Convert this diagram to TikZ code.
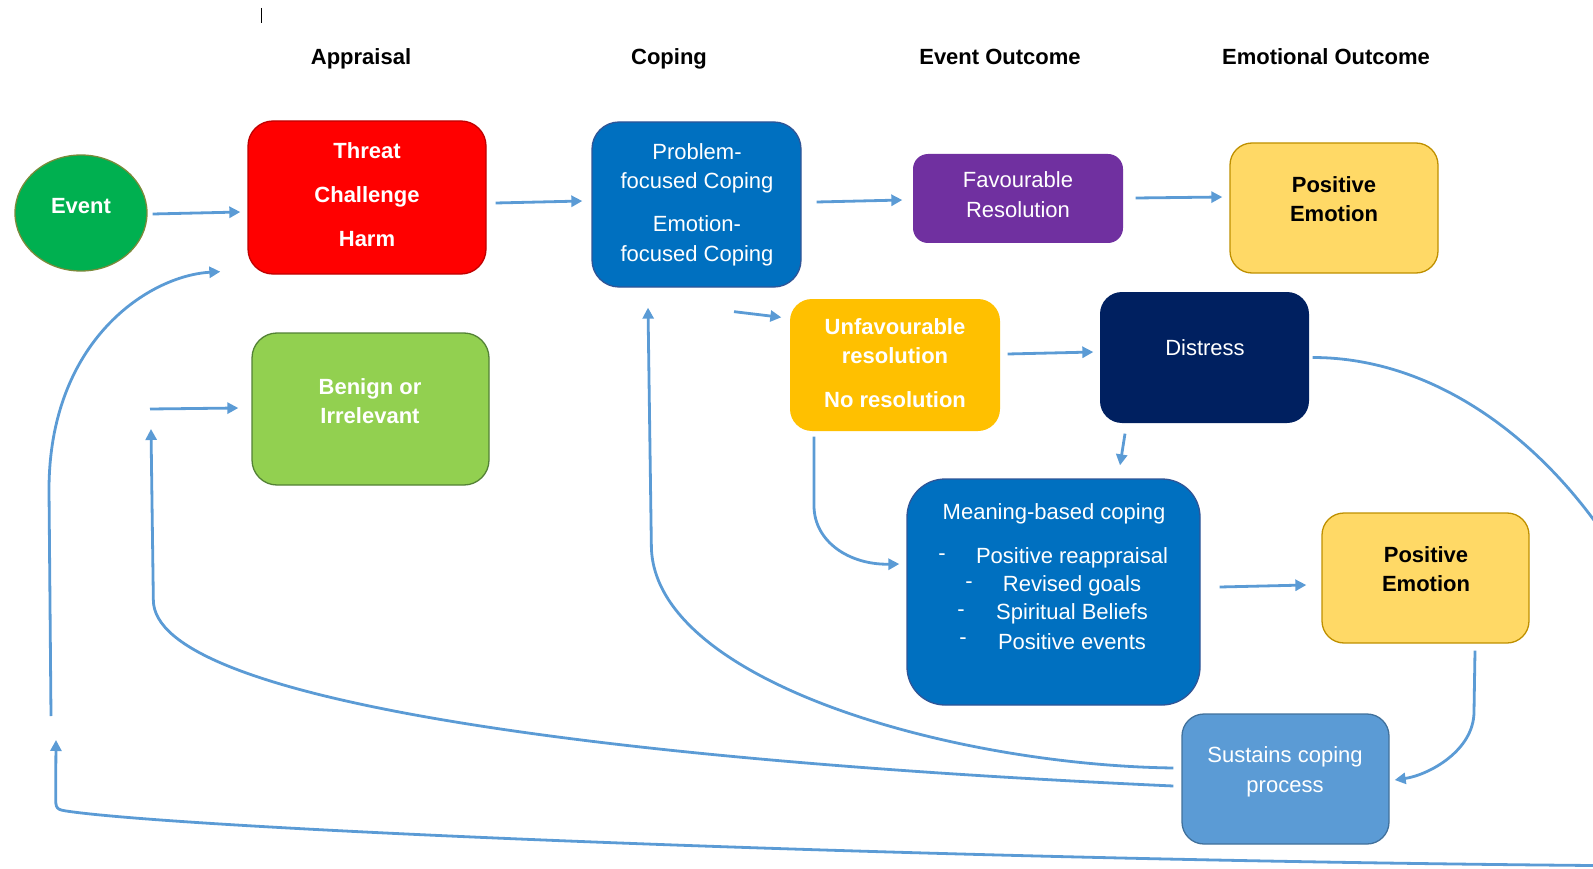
\documentclass[tikz,border=0pt]{standalone}
\usepackage{fontspec}
\setmainfont{Liberation Sans}
\usetikzlibrary{arrows.meta,shapes.geometric}

\definecolor{flowblue}{HTML}{5B9BD5}
\definecolor{eventgreen}{HTML}{00B050}
\definecolor{eventrim}{HTML}{7A8A3A}
\definecolor{threatred}{HTML}{FF0000}
\definecolor{threatrim}{HTML}{C00000}
\definecolor{copeblue}{HTML}{0070C0}
\definecolor{coperim}{HTML}{2F5597}
\definecolor{favpurple}{HTML}{7030A0}
\definecolor{posyellow}{HTML}{FFD966}
\definecolor{posrim}{HTML}{BF9000}
\definecolor{unfavamber}{HTML}{FFC000}
\definecolor{distressnavy}{HTML}{002060}
\definecolor{benigngreen}{HTML}{92D050}
\definecolor{benignrim}{HTML}{538135}
\definecolor{sustainblue}{HTML}{5B9BD5}
\definecolor{sustainrim}{HTML}{41719C}

\begin{document}
\begin{tikzpicture}[x=1pt,y=-1pt,>={Triangle[length=11pt,width=11pt]},
  box/.style={rectangle,rounded corners=22pt,inner sep=0pt,line width=1.3pt},
  flow/.style={->,flowblue,line width=2.8pt},
  txt/.style={text=white,align=center,inner sep=0pt,yshift=-2.5pt,font=\fontsize{22}{29.5}\selectfont},
  head/.style={anchor=base,inner sep=0pt,font=\fontsize{22}{26}\selectfont\bfseries}]
  \useasboundingbox (0,0) rectangle (1593,869);
  \draw[line width=1pt] (261,8) -- (261,23);
  % column headings
  \node[head] (h-app) at (361,65) {Appraisal};
  \node[head] (h-cop) at (669,65) {Coping};
  \node[head] (h-evo) at (1000,65) {Event Outcome};
  \node[head] (h-emo) at (1326,65) {Emotional Outcome};
  % boxes
  \node[ellipse,fill=eventgreen,draw=eventrim,line width=1.3pt,inner sep=0pt,
        minimum width=132pt,minimum height=116pt] (event) at (81,213) {};
  \node[box,rounded corners=25pt,fill=threatred,draw=threatrim,minimum width=238pt,minimum height=153pt] (threat) at (367,197.5) {};
  \node[box,rounded corners=27pt,fill=copeblue,draw=coperim,minimum width=209pt,minimum height=165pt] (coping) at (696.5,204.5) {};
  \node[box,rounded corners=15pt,fill=favpurple,minimum width=210pt,minimum height=89pt] (fav) at (1018,198.5) {};
  \node[box,fill=posyellow,draw=posrim,minimum width=208pt,minimum height=130pt] (pos1) at (1334,208) {};
  \node[box,fill=unfavamber,minimum width=210pt,minimum height=132pt] (unfav) at (895,365) {};
  \node[box,fill=distressnavy,minimum width=209pt,minimum height=131pt] (distress) at (1204.5,357.5) {};
  \node[box,rounded corners=25pt,fill=benigngreen,draw=benignrim,minimum width=237pt,minimum height=152pt] (benign) at (370.5,409) {};
  \node[box,rounded corners=38pt,fill=copeblue,draw=coperim,minimum width=293pt,minimum height=226pt] (meaning) at (1053.5,592) {};
  \node[box,fill=posyellow,draw=posrim,minimum width=207pt,minimum height=130pt] (pos2) at (1425.5,578) {};
  \node[box,fill=sustainblue,draw=sustainrim,minimum width=207pt,minimum height=130pt] (sustains) at (1285.5,779) {};
  % box texts
  \node[txt,font=\fontsize{22}{29.5}\selectfont\bfseries] (event-t) at (81,204) {Event};
  \node[txt,font=\fontsize{22}{44}\selectfont\bfseries] (threat-t) at (367,192) {Threat\\Challenge\\Harm};
  \node[txt] (coping-t) at (697,202) {Problem-\\focused Coping\\[13.5pt]Emotion-\\focused Coping};
  \node[txt] (fav-t) at (1018,192) {Favourable\\Resolution};
  \node[txt,text=black,font=\fontsize{22}{29}\selectfont\bfseries] (pos1-t) at (1334,196.5) {Positive\\Emotion};
  \node[txt,font=\fontsize{22}{29}\selectfont\bfseries] (unfav-t) at (895,360.5) {Unfavourable\\resolution\\[15pt]No resolution};
  \node[txt] (distress-t) at (1205,345) {Distress};
  \node[txt,font=\fontsize{22}{29}\selectfont\bfseries] (benign-t) at (370,398.5) {Benign or\\Irrelevant};
  \node[txt] (meaning-t) at (1054,511) {Meaning-based coping};
  \foreach \lbl/\dx/\yy [count=\i] in {Positive reappraisal/942/555,Revised goals/969/583,
      Spiritual Beliefs/961/611,Positive events/963/639} {
    \node[txt] (dash-\i) at (\dx,\yy) {-};
    \node[txt] (mb-\i) at (1072,\yy) {\lbl};
  }
  \node[txt,text=black,font=\fontsize{22}{29}\selectfont\bfseries] (pos2-t) at (1426,566.5) {Positive\\Emotion};
  \node[txt] (sustains-t) at (1285,769.5) {Sustains coping\\process};
  % free ends of the return loops
  \coordinate (benignfeed) at (150,409);
  \coordinate (gapbot) at (56,740);
  \coordinate (gaptop) at (51,716);
  % forward arrows
  \draw[flow] ([xshift=5pt,yshift=-1pt]event.east) -- ([xshift=-7pt,yshift=-14.5pt]threat.west);
  \draw[flow] ([xshift=9pt,yshift=-5.5pt]threat.east) -- ([xshift=-9pt,yshift=3.5pt]coping.west);
  \draw[flow] ([xshift=15pt,yshift=2.5pt]coping.east) -- ([xshift=-10pt,yshift=-1.5pt]fav.west);
  \draw[flow] ([xshift=12pt,yshift=0.5pt]fav.east) -- ([xshift=-7pt,yshift=11pt]pos1.west);
  \draw[flow] ([xshift=37.5pt,yshift=-24pt]coping.south) -- ([xshift=-8pt,yshift=-19pt]unfav.north west);
  \draw[flow] ([xshift=7pt,yshift=11pt]unfav.east) -- ([xshift=-6pt,yshift=5.5pt]distress.west);
  \draw[flow] ([xshift=-79.5pt,yshift=-10pt]distress.south) -- ([xshift=66.5pt,yshift=13pt]meaning.north);
  \draw[flow] ([xshift=-81pt,yshift=-5pt]unfav.south) -- ++(0,69)
    .. controls +(0,36) and +(-50,1) .. ([xshift=-7pt,yshift=28pt]meaning.west);
  \draw[flow] ([xshift=19pt,yshift=5pt]meaning.east) -- ([xshift=-15pt,yshift=-7pt]pos2.west);
  \draw[flow] ([xshift=49.5pt,yshift=-7pt]pos2.south) -- ++(-1,61)
    .. controls +(0,39) and +(34,-5) .. ([xshift=5pt,yshift=-1pt]sustains.east);
  % return loops
  \draw[flow] ([xshift=-8pt,yshift=11pt]sustains.west)
    .. controls +(-224,-3) and +(0,135) .. ++(-522,-223) -- ([xshift=-48.5pt,yshift=-20pt]coping.south);
  \draw[flow] ([xshift=-8pt,yshift=-7pt]sustains.west)
    .. controls +(-574,-26) and +(0,100) .. ++(-1020,-186) -- ([xshift=1pt,yshift=-20pt]benignfeed);
  \draw[flow] (benignfeed) -- ([xshift=-13pt,yshift=1pt]benign.west);
  \begin{scope}
    \clip (0,0) rectangle (1593,869);
    \draw[flow] ([xshift=3pt]distress.east)
      .. controls +(210,0) and +(0,-199) .. ++(380,442)
      .. controls +(0,50) and +(57,1) .. ++(-100,66)
      .. controls +(-693,-6) and +(130,18) .. ++(-1523,-54)
      .. controls +(-14,-2) .. ++(-14,-17) -- (gapbot);
  \end{scope}
  \draw[flow] (gaptop) -- ++(-2,-226)
    .. controls +(0,-150) and +(-71,4) .. ([xshift=-27pt,yshift=3pt]threat.south west);
\end{tikzpicture}
\end{document}
